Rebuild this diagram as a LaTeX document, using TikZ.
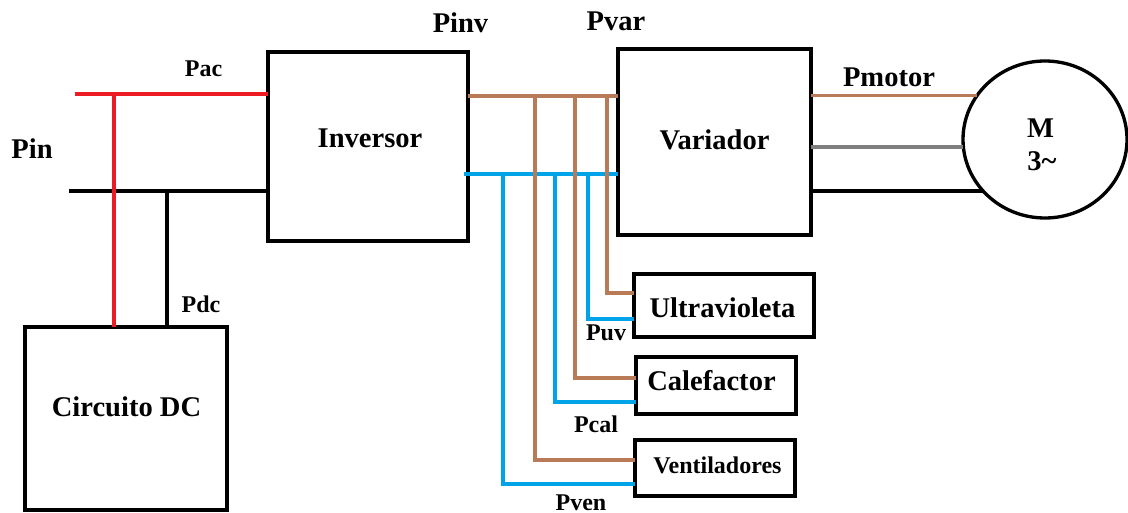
\documentclass[tikz,border=0pt]{standalone}
\usepackage{fontspec}
\setmainfont{Liberation Serif}
\usetikzlibrary{calc, positioning, shapes.geometric}
\definecolor{cobre}{HTML}{B97A57}
\definecolor{celeste}{HTML}{00A2E8}
\definecolor{rojo}{HTML}{ED1C24}
\definecolor{gris}{HTML}{7F7F7F}
\tikzset{
  bloque/.style={draw, line width=2.5pt, inner sep=0pt, outer sep=0pt},
  linea/.style={line width=2.8pt},
  rotulo/.style={anchor=base, font=\bfseries\fontsize{21.4}{24}\selectfont, inner sep=0pt},
  rotulochico/.style={anchor=base, font=\bfseries\fontsize{18}{21}\selectfont, inner sep=0pt}
}

\begin{document}
\begin{tikzpicture}[x=0.75pt, y=-0.75pt]
  \useasboundingbox (0,0) rectangle (1128,513);
  % blocks (coordinates are image pixels)
  \node[bloque, minimum width=150pt, minimum height=141.75pt] (inversor) at (368,146.5) {};
  \node[bloque, minimum width=144.75pt, minimum height=139.5pt] (variador) at (714.5,142) {};
  \node[bloque, minimum width=135pt, minimum height=47.25pt] (ultravioleta) at (724,305.5) {};
  \node[bloque, minimum width=120pt, minimum height=42.75pt] (calefactor) at (716,385.5) {};
  \node[bloque, minimum width=120pt, minimum height=42pt] (ventiladores) at (715,468) {};
  \node[bloque, minimum width=151.5pt, minimum height=137.25pt] (circuito) at (126,418.5) {};
  \node[bloque, ellipse, minimum width=123pt, minimum height=117.75pt] (motor) at (1045,139.5) {};
  % block texts
  \node[rotulo] (tinversor) at (370,148) {Inversor};
  \node[rotulo] (tvariador) at (714.5,150) {Variador};
  \node[rotulo] (tultra) at (722.5,317) {Ultravioleta};
  \node[rotulo] (tcalef) at (711.5,390) {Calefactor};
  \node[rotulochico] (tventi) at (717.5,473) {Ventiladores};
  \node[rotulo] (tcircuito) at (126.5,416) {Circuito DC};
  \node[rotulo] (tm) at (1040.5,138) {M};
  \node[rotulo] (ttres) at (1042,171) {3\textasciitilde};
  % input lines
  \coordinate (pacini) at (75,94);
  \coordinate (pinini) at (69,191);
  \coordinate (pacbaja) at (114,94);
  \coordinate (pinbaja) at (167,191);
  \draw[linea] (pinini) -- (pinini -| inversor.west);
  \draw[linea] (pinbaja) -- (pinbaja |- circuito.north);
  \draw[linea, rojo] (pacini) -- (pacini -| inversor.west);
  \draw[linea, rojo] (pacbaja) -- (pacbaja |- circuito.north);
  % bus between inverter and variador
  \coordinate (buscobre) at (468,96);
  \coordinate (buscel) at (464,174);
  \draw[linea, celeste] (buscel) -- (buscel -| variador.west);
  % blue branches
  \coordinate (celven) at (503,174);
  \coordinate (celcal) at (555,174);
  \coordinate (celuv) at (588,174);
  \coordinate (finven) at (635,484);
  \coordinate (fincal) at (636,402);
  \coordinate (finuv) at (634,319);
  \draw[linea, celeste] (celven) |- (finven);
  \draw[linea, celeste] (celcal) |- (fincal);
  \draw[linea, celeste] (celuv) |- (finuv);
  % brown branches
  \coordinate (cobven) at (535,96);
  \coordinate (cobcal) at (575,96);
  \coordinate (cobuv) at (607,96);
  \coordinate (entven) at (635,460);
  \coordinate (entcal) at (636,378);
  \coordinate (entuv) at (634,293);
  \draw[linea, cobre] (buscobre) -- (buscobre -| variador.west);
  \draw[linea, cobre] (cobven) |- (entven);
  \draw[linea, cobre] (cobcal) |- (entcal);
  \draw[linea, cobre] (cobuv) |- (entuv);
  % motor lines
  \draw[linea, cobre] (variador.east |- motor.147.5) -- (motor.147.5);
  \draw[linea, gris] (variador.east |- motor.185) -- (motor.185);
  \draw[linea] (variador.east |- motor.220) -- (motor.220);
  % power labels
  \node[rotulochico] (pac) at (203.5,77) {Pac};
  \node[rotulo] (pin) at (32,159) {Pin};
  \node[rotulochico] (pdc) at (201,312) {Pdc};
  \node[rotulo] (pinv) at (460.5,33) {Pinv};
  \node[rotulo] (pvar) at (616,31) {Pvar};
  \node[rotulo] (pmotor) at (889,87) {Pmotor};
  \node[rotulochico] (puv) at (606,340) {Puv};
  \node[rotulochico] (pcal) at (596,432) {Pcal};
  \node[rotulochico] (pven) at (581,510) {Pven};
\end{tikzpicture}
\end{document}
